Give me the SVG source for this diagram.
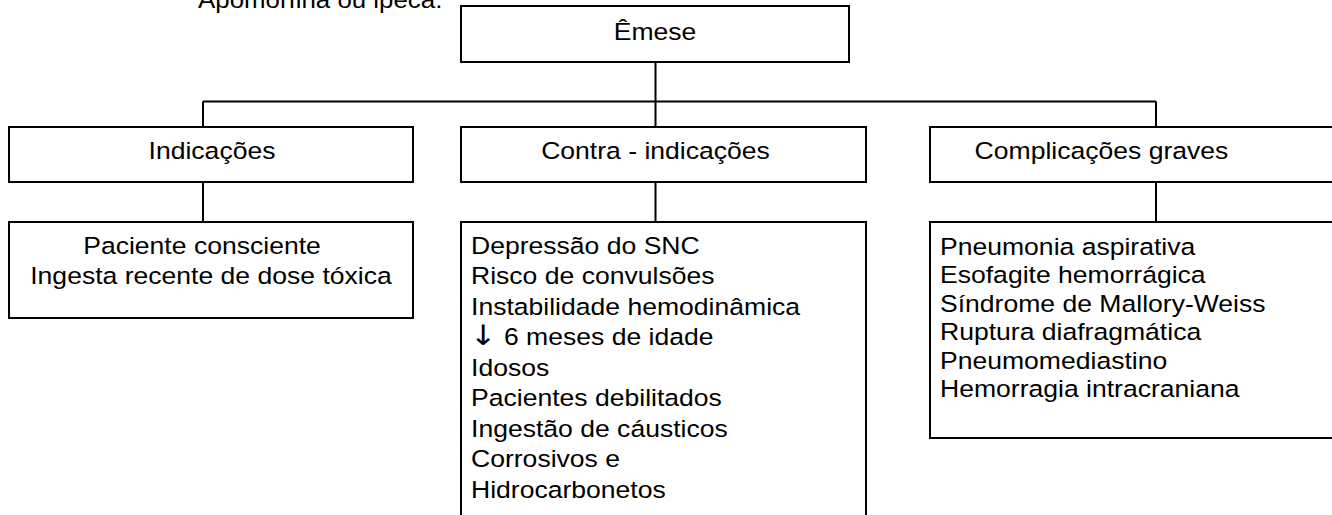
<svg xmlns="http://www.w3.org/2000/svg" width="1332" height="515" viewBox="0 0 1332 515">
<style>
.box{fill:#fff;stroke:#000;stroke-width:2}
.ln{fill:none;stroke:#000;stroke-width:2}
.t{font-family:"Liberation Sans",Arial,sans-serif;font-size:23.3px;fill:#000}
.c{text-anchor:middle}
.arr{font-family:"DejaVu Sans",sans-serif;font-size:28px}
</style>
<rect width="1332" height="515" fill="#fff"/>
<text class="t" transform="translate(198,7.5) scale(1.11,1)">Apomorfina ou ipeca.</text>
<g id="connectors">
<path class="ln" d="M655.5,62 V127 M203,101.5 H1156 M203,101.5 V127 M1156,101.5 V127 M203,182 V222 M655.5,182 V222 M1156,182 V222"/>
</g>
<g id="emese">
<rect class="box" x="461" y="6" width="388" height="56"/>
<text class="t c" transform="translate(655,40) scale(1.14,1)">Êmese</text>
</g>
<g id="indicacoes">
<rect class="box" x="9" y="127" width="404" height="55"/>
<text class="t c" transform="translate(212,158.5) scale(1.14,1)">Indicações</text>
</g>
<g id="contra">
<rect class="box" x="461" y="127" width="405" height="55"/>
<text class="t c" transform="translate(655.5,158.5) scale(1.14,1)">Contra - indicações</text>
</g>
<g id="complicacoes">
<rect class="box" x="930" y="127" width="420" height="55"/>
<text class="t c" transform="translate(1101.5,158.5) scale(1.14,1)">Complicações graves</text>
</g>
<g id="indicacoes-lista">
<rect class="box" x="9" y="222" width="404" height="96"/>
<text class="t c" transform="translate(211,254) scale(1.14,1)"><tspan x="-7.9" y="0">Paciente consciente</tspan><tspan x="0" y="30.5">Ingesta recente de dose tóxica</tspan></text>
</g>
<g id="contra-lista">
<rect class="box" x="461" y="222" width="405" height="310"/>
<text class="t" transform="translate(471,254) scale(1.14,1)"><tspan x="0" y="0">Depressão do SNC</tspan><tspan x="0" y="30.5">Risco de convulsões</tspan><tspan x="0" y="61">Instabilidade hemodinâmica</tspan><tspan x="-1" y="91.5" class="arr">↓</tspan><tspan> 6 meses de idade</tspan><tspan x="0" y="122">Idosos</tspan><tspan x="0" y="152.5">Pacientes debilitados</tspan><tspan x="0" y="183">Ingestão de cáusticos</tspan><tspan x="0" y="213.5">Corrosivos e</tspan><tspan x="0" y="244">Hidrocarbonetos</tspan></text>
</g>
<g id="complicacoes-lista">
<rect class="box" x="930" y="222" width="420" height="216"/>
<text class="t" transform="translate(940,254.5) scale(1.14,1)"><tspan x="0" y="0">Pneumonia aspirativa</tspan><tspan x="0" y="28.6">Esofagite hemorrágica</tspan><tspan x="0" y="57.2">Síndrome de Mallory-Weiss</tspan><tspan x="0" y="85.8">Ruptura diafragmática</tspan><tspan x="0" y="114.4">Pneumomediastino</tspan><tspan x="0" y="143">Hemorragia intracraniana</tspan></text>
</g>
</svg>
